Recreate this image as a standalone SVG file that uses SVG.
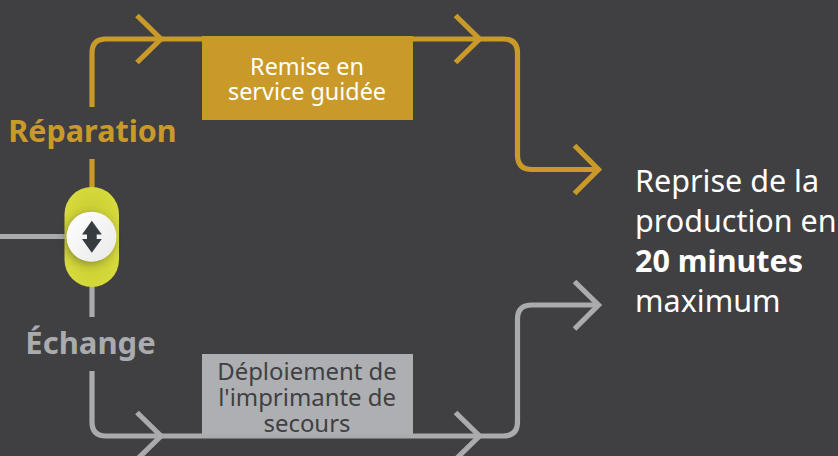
<svg xmlns="http://www.w3.org/2000/svg" width="838" height="456" viewBox="0 0 838 456">
<defs>
<radialGradient id="cap" cx="50%" cy="50%" r="55%"><stop offset="0" stop-color="#b9bd2b"/><stop offset="0.55" stop-color="#cdd135"/><stop offset="1" stop-color="#d6da3d"/></radialGradient>
<linearGradient id="disc" x1="0" y1="0" x2="1" y2="1"><stop offset="0" stop-color="#ffffff"/><stop offset="1" stop-color="#e9e9e9"/></linearGradient>
<filter id="sh" x="-40%" y="-40%" width="180%" height="180%"><feGaussianBlur stdDeviation="4"/></filter>
</defs>
<style>
text{font-family:"Noto Sans","Open Sans","Liberation Sans",sans-serif}
.g{fill:none;stroke:#c99a2a;stroke-width:5.2}
.s{fill:none;stroke:#a9abae;stroke-width:5.2}
.t{text-anchor:middle;font-size:23.400px}
.d{text-anchor:middle;font-size:23.900px}
.big{font-size:30.500px;fill:#fff}
.lab{font-weight:700;text-anchor:middle}
</style>
<rect width="838" height="456" fill="#403f41"/>
<g id="connectors">
<path class="g" d="M92 107V53Q92 39 106 39H503Q517.500 39 517.500 53V155Q517.500 169.500 532 169.500H599"/>
<path class="g" d="M137 15.500L161 39L137 62.500M455.500 15.500L479.500 39L455.500 62.500M574.500 145.500L598.500 169.500L574.500 193.500"/>
<path class="g" d="M92 159V190"/>
<path class="s" d="M92 371V422Q92 436 106 436H503Q517.500 436 517.500 422V319Q517.500 305 532 305H599"/>
<path class="s" d="M137 412.500L161 436L137 459.500M455.500 412.500L479.500 436L455.500 459.500M574.500 281.500L598.500 305L574.500 329"/>
<path class="s" d="M92 284V317"/>
<path class="s" d="M0 236.500H68"/>
</g>
<g id="node-remise">
<rect x="202" y="36" width="211" height="84" fill="#c99a2a"/>
<text class="t" x="307" y="75" fill="#fff">Remise en</text>
<text class="t" x="307" y="100" fill="#fff">service guidée</text>
</g>
<g id="node-deploiement">
<rect x="202" y="354" width="211" height="80" fill="#aeafb2"/>
<text class="d" x="307" y="380" fill="#403f41">Déploiement de</text>
<text class="d" x="307" y="406" fill="#403f41">l'imprimante de</text>
<text class="d" x="307" y="432" fill="#403f41">secours</text>
</g>
<g id="label-reparation"><text class="lab" font-size="30.500" x="92.500" y="142" fill="#c99a2a">Réparation</text></g>
<g id="label-echange"><text class="lab" font-size="31" x="90.500" y="354" fill="#a9abae">Échange</text></g>
<g id="node-switch">
<rect x="64.500" y="187" width="54.500" height="100" rx="27.250" fill="url(#cap)"/>
<circle cx="89.500" cy="239" r="25" fill="#2d2d2d" opacity="0.4" filter="url(#sh)"/>
<circle cx="91.500" cy="236.700" r="25" fill="url(#disc)"/>
<path d="M91.800 220.700L101.800 234.500H82ZM91.800 252.700L101.800 238.900H82Z" fill="#363c40"/>
<rect x="87" y="234" width="9.700" height="5.400" fill="#363c40"/>
</g>
<g id="node-reprise">
<text class="big" x="635" y="192">Reprise de la</text>
<text class="big" x="635" y="232">production en</text>
<text class="big" x="635" y="272" font-weight="700">20 minutes</text>
<text class="big" x="635" y="312">maximum</text>
</g>
</svg>
